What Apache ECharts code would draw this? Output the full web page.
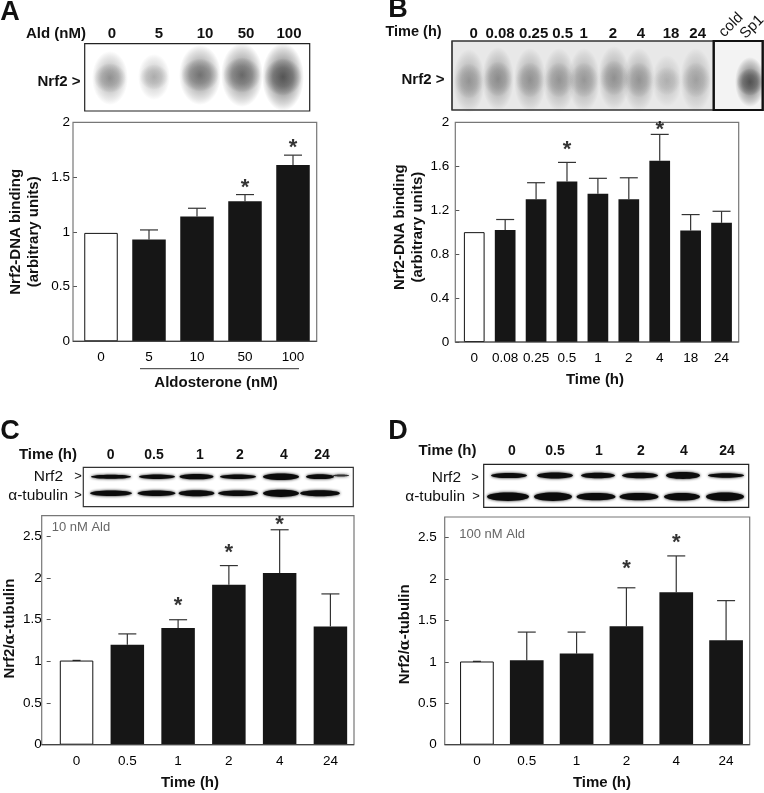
<!DOCTYPE html>
<html><head><meta charset="utf-8">
<style>html,body{margin:0;padding:0;background:#fff}#c{width:764px;height:793px}</style>
<script src="https://cdn.jsdelivr.net/npm/echarts@6/dist/echarts.min.js"></script>
</head><body><div id="c"></div>
<script>
// ---------- data ----------
const categoriesA = ['0','5','10','50','100'];
const valuesA = [0.99,0.93,1.14,1.28,1.61];
const errorTopA = [null,1.017,1.215,1.34,1.70];
const starsA = [null,null,null,1.437,1.80];

const categoriesB = ['0','0.08','0.25','0.5','1','2','4','18','24'];
const valuesB = [1.0,1.02,1.30,1.46,1.35,1.30,1.65,1.015,1.085];
const errorTopB = [null,1.115,1.45,1.635,1.49,1.495,1.89,1.16,1.19];
const starsB = [null,null,null,1.787,null,null,1.967,null,null];

const categoriesC = ['0','0.5','1','2','4','24'];
const valuesC = [1.01,1.20,1.40,1.92,2.06,1.42];
const errorTopC = [1.012,1.33,1.50,2.15,2.58,1.81];
const starsC = [null,null,1.71,2.35,2.69,null];

const categoriesD = ['0','0.5','1','2','4','24'];
const valuesD = [1.005,1.02,1.10,1.43,1.84,1.26];
const errorTopD = [1.007,1.36,1.36,1.895,2.28,1.74];
const starsD = [null,null,null,2.17,2.48,null];

const blotLabelsA = ['0','5','10','50','100'];
const blotLabelsB = ['0','0.08','0.25','0.5','1','2','4','18','24'];
const blotLabelsC = ['0','0.5','1','2','4','24'];
const blotLabelsD = ['0','0.5','1','2','4','24'];
const blotDarknessA = [0.5,0.36,0.68,0.74,0.88];
const blotDarknessB = [0.5,0.56,0.52,0.5,0.48,0.52,0.5,0.32,0.42];

// ---------- layout ----------
const FONT = '"Liberation Sans", Arial, sans-serif';
const panels = [
 {cats:categoriesA,vals:valuesA,err:errorTopA,stars:starsA,max:2,step:0.5,
  frame:[73,122.3,316.7,341.3],data:[77,317],barW:33.5,cap:18,lab:3,gap:30,pad:[0,0,0,0],
  name:'Nrf2-DNA binding\n(arbitrary units)'},
 {cats:categoriesB,vals:valuesB,err:errorTopB,stars:starsB,max:2,step:0.4,
  frame:[455.3,122.3,738.7,342],data:[458.8,737],barW:20.7,cap:18,lab:6,gap:25,pad:[0,0,0,10],
  name:'Nrf2-DNA binding\n(arbitrary units)'},
 {cats:categoriesC,vals:valuesC,err:errorTopC,stars:starsC,max:2.75,step:0.5,
  frame:[41.7,515.6,354,744.7],data:[46.2,355.8],barW:33.5,cap:18,lab:5,gap:26,pad:[0,0,0,3],
  name:'{b|Nrf2/}{a|α}{b|-tubulin}'},
 {cats:categoriesD,vals:valuesD,err:errorTopD,stars:starsD,max:2.75,step:0.5,
  frame:[444.7,517,749.7,744.7],data:[452,751],barW:33.7,cap:18,lab:8,gap:27,pad:[0,7,0,0],
  name:'{b|Nrf2/}{a|α}{b|-tubulin}'}
];

const grid=[],xAxis=[],yAxis=[],series=[];
panels.forEach((p,k)=>{
  const [fl,ft,fr,fb]=p.frame;
  grid.push({left:p.data[0],width:p.data[1]-p.data[0],top:ft,height:fb-ft,containLabel:false});
  xAxis.push({type:'category',gridIndex:k,data:p.cats,
    axisLine:{show:false},axisTick:{show:false},
    axisLabel:{interval:0,hideOverlap:false,color:'#000',fontFamily:FONT,fontSize:13.5,margin:k<2?9:10}});
  yAxis.push({type:'value',gridIndex:k,min:0,max:p.max,interval:p.step,
    offset:p.data[0]-fl,splitLine:{show:false},
    axisLine:{show:false},
    axisTick:{show:true,inside:true,length:4,lineStyle:{color:'#555'}},
    axisLabel:{color:'#000',fontFamily:FONT,fontSize:13.5,margin:p.lab,showMaxLabel:p.max===2},
    name:p.name,nameLocation:'middle',nameGap:p.gap,nameRotate:90,
    nameTextStyle:{color:'#111',fontFamily:FONT,fontSize:15,fontWeight:'bold',lineHeight:18,padding:p.pad,
      rich:{b:{fontFamily:FONT,fontSize:15,fontWeight:'bold',color:'#111'},
            a:{fontFamily:'"DejaVu Serif",serif',fontSize:14,color:'#111'}}}});
  series.push({type:'bar',xAxisIndex:k,yAxisIndex:k,barWidth:p.barW,z:3,
    data:p.vals.map((v,i)=>({value:v,itemStyle:i===0
      ?{color:'#fff',borderColor:'#111',borderWidth:1}
      :{color:'#161616',borderColor:'#161616',borderWidth:0}}))});
  series.push({type:'custom',xAxisIndex:k,yAxisIndex:k,z:2,
    data:p.err.map((e,i)=>[i,p.vals[i],e]).filter(d=>d[2]!=null),
    encode:{x:0,y:[1,2]},
    renderItem:(params,api)=>{
      const a=api.coord([api.value(0),api.value(1)]),b=api.coord([api.value(0),api.value(2)]);
      const hw=(api.value(2)-api.value(1)<0.02?8:p.cap)/2;
      const st={stroke:'#333',lineWidth:1.2};
      return {type:'group',children:[
        {type:'line',shape:{x1:a[0],y1:a[1],x2:b[0],y2:b[1]},style:st},
        {type:'line',shape:{x1:b[0]-hw,y1:b[1],x2:b[0]+hw,y2:b[1]},style:st}]};
    }});
  series.push({type:'scatter',xAxisIndex:k,yAxisIndex:k,symbolSize:1,itemStyle:{color:'transparent'},z:4,
    data:p.stars.map((s,i)=>[i,s]).filter(d=>d[1]!=null),
    label:{show:true,formatter:'*',position:'inside',offset:[0,4],fontFamily:FONT,fontSize:22,fontWeight:'bold',color:'#000'}});
});

// ---------- blots, frames and free text ----------
const g=[];
const T=(text,x,y,opt={})=>g.push({type:'text',x,y,z:20,rotation:opt.rot||0,
  style:{text,fill:opt.fill||'#111',font:`${opt.w||'bold'} ${opt.s||15}px ${opt.f||FONT}`,
  align:opt.a||'center',verticalAlign:'middle'}});
const rect=(x0,y0,x1,y1,o)=>g.push({type:'rect',z:o.z||10,shape:{x:x0,y:y0,width:x1-x0,height:y1-y0},
  style:{fill:o.fill||'transparent',stroke:o.stroke,lineWidth:o.lw||1}});
const lobe=(cx,cy,rx,ry,d,grey)=>{
  const col=a=>`rgba(${grey},${grey},${grey},${a})`;
  g.push({type:'circle',z:8,x:cx,y:cy,scaleX:rx/50,scaleY:ry/50,shape:{cx:0,cy:0,r:50},
    style:{fill:new echarts.graphic.RadialGradient(0.5,0.5,0.5,[
      {offset:0,color:col(d)},{offset:0.5,color:col(d*0.72)},{offset:0.8,color:col(d*0.32)},{offset:1,color:col(0)}])}});
};
// a gel spot: a broad smear with a denser core
const blob=(cx,cy,rx,ry,d,grey=30)=>{
  lobe(cx,cy,rx,ry,d*0.6,grey);
  lobe(cx,cy,rx*0.9,ry*0.55,d*0.55,grey);
};
const band=(cx,cy,rx,ry,c)=>g.push({type:'ellipse',z:8,shape:{cx,cy,rx,ry},
  style:{fill:c||'#0c0c0c',shadowBlur:3,shadowColor:c||'#0c0c0c'}});

// frames and baselines of the plots
panels.forEach(p=>{
  const [l,t,r,b]=p.frame;
  rect(l,t,r,b,{stroke:'#777',lw:1.2,z:1});
  g.push({type:'line',z:5,shape:{x1:l,y1:b,x2:r,y2:b},style:{stroke:'#444',lineWidth:1.2}});
});

// Panel letters
T('A',10,13,{s:27}); T('B',398,10,{s:27}); T('C',10,432,{s:27}); T('D',398,432,{s:27});

// Panel A blot
[[110,78,18,27],[154,77,16,23],[200,75,21,30],[242,75,21,32],[283,77,21,34]].forEach((b,i)=>{
  blob(b[0],b[1],b[2],b[3],blotDarknessA[i]);});
rect(84.7,43.7,309.7,111,{stroke:'#222',lw:1.2});
T('Ald (nM)',56,34);
[112,159,205,246,289].forEach((x,i)=>T(blotLabelsA[i],x,34));
T('Nrf2 >',59,82);
g.push({type:'line',z:5,shape:{x1:140,y1:368.7,x2:299,y2:368.7},style:{stroke:'#333',lineWidth:1}});
T('Aldosterone (nM)',216,382.7);

// Panel B blot
rect(452,41,713.7,110,{fill:'#e8e8e8',stroke:'#333',lw:1.2,z:7});
[[469,81],[498,79],[530,80],[559,80],[584,80],[614,78],[639,80],[667,81],[696,80]].forEach((b,i)=>{
  blob(b[0],b[1],i===7?15:16,i===7?26:32,blotDarknessB[i],60);});
rect(452,41,713.7,110,{stroke:'#333',lw:1.2});
rect(713.7,41,762.7,110,{fill:'#f3f3f3',stroke:'#111',lw:2,z:7});
blob(750,82,15,25,0.95,40);
rect(713.7,41,762.7,110,{stroke:'#111',lw:2});
T('Time (h)',413.5,32,{s:14.5});
[473.7,500,533.7,562.7,583.7,613,641,671,697.7].forEach((x,i)=>T(blotLabelsB[i],x,34));
T('cold',731,25,{w:'normal',s:15,rot:Math.PI/4});
T('Sp1',752,27,{w:'normal',s:15,rot:Math.PI/4});
T('Nrf2 >',423,80);
T('Time (h)',595,380);

// Panel C blot
rect(83.3,467.3,353.3,506.7,{stroke:'#333',lw:1.2});
[[111,20,2],[157,18,2.2],[196.5,17,2.6],[238,18,2.2],[281,18,3.2],[320,14,2.4]].forEach(b=>band(b[0],476.7,b[1],b[2]));
band(341,475.5,8,1,'#333');
[[111,21,2.8],[156.5,19,2.8],[196.5,18,3],[238,20,2.8],[281,18,3.6],[320,20,3]].forEach(b=>band(b[0],493.3,b[1],b[2]));
T('Time (h)',48,455);
[110.7,154,200,240,284,322].forEach((x,i)=>T(blotLabelsC[i],x,455,{s:14}));
T('Nrf2',63,476.7,{w:'normal',s:15.5,a:'right'});
T('>',78,476,{w:'normal',s:13});
T('α-tubulin',68,496,{w:'normal',s:15.5,a:'right'});
T('>',78,495,{w:'normal',s:13});
T('10 nM Ald',51.7,527.3,{w:'normal',s:13,a:'left',fill:'#666'});
T('Time (h)',190,783);

// Panel D blot
rect(483.7,464.3,748.7,507.3,{stroke:'#222',lw:1.2});
[[509,18,2.6],[555,18,3],[598,17,2.8],[640,18,2.8],[683,17,3.4],[726,18,2.2]].forEach(b=>band(b[0],475.5,b[1],b[2]));
[[508,21,4.2],[553,19,4.2],[596,19.5,3.6],[639,19.5,3.6],[682,18,3.8],[725,19,4.2]].forEach(b=>band(b[0],496.7,b[1],b[2]));
T('Time (h)',447.5,451);
[512,555,599,641,684,727].forEach((x,i)=>T(blotLabelsD[i],x,451,{s:14}));
T('Nrf2',461,477.7,{w:'normal',s:15.5,a:'right'});
T('>',475,477,{w:'normal',s:13});
T('α-tubulin',465,497,{w:'normal',s:15.5,a:'right'});
T('>',476,496,{w:'normal',s:13});
T('100 nM Ald',459.3,534,{w:'normal',s:13,a:'left',fill:'#666'});
T('Time (h)',602,783);

const chart=echarts.init(document.getElementById('c'),null,{renderer:'canvas'});
chart.setOption({animation:false,backgroundColor:'#fff',grid,xAxis,yAxis,series,graphic:{elements:g}});
</script></body></html>
